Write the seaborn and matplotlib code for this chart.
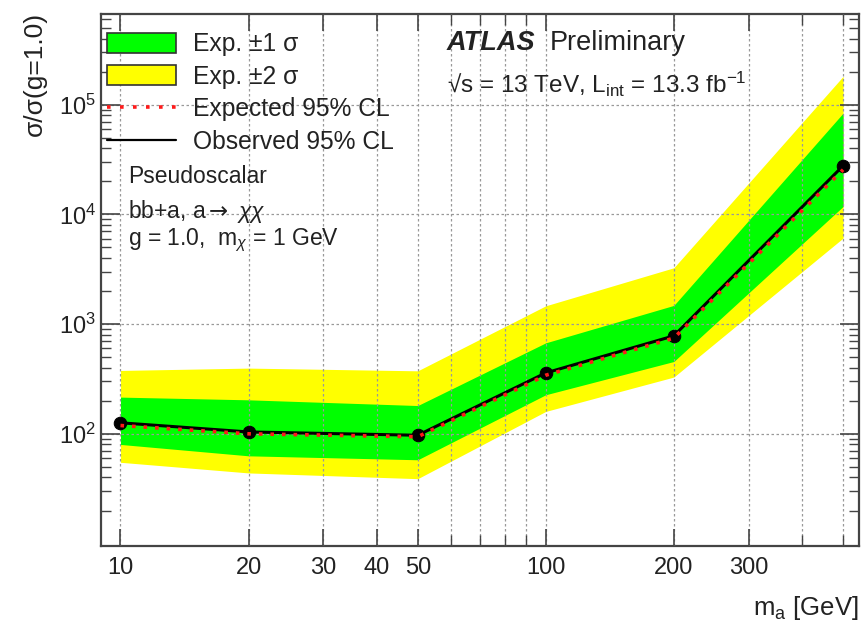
import numpy as np
import pandas as pd
import matplotlib
matplotlib.use("Agg")
import matplotlib.pyplot as plt
import seaborn as sns
from matplotlib.patches import Patch
from matplotlib.lines import Line2D
from matplotlib.ticker import FixedLocator, NullFormatter, LogLocator, FixedFormatter

# ---- data ----
mass = [10, 20, 50, 100, 200, 500]
observed = [126, 104, 97, 359, 781, 27700]
expected = [119, 100, 94, 342, 745, 25500]
band1_lo = [80, 63, 58, 227, 456, 11800]
band1_hi = [216, 204, 181, 675, 1480, 83700]
band2_lo = [55, 44, 39, 160, 329, 6080]
band2_hi = [378, 397, 375, 1468, 3260, 181000]
xtick_vals = [10, 20, 30, 40, 50, 100, 200, 300]
xtick_labels = ["10", "20", "30", "40", "50", "100", "200", "300"]
xminor_vals = [60, 70, 80, 90, 400, 500]
ytick_vals = [1e2, 1e3, 1e4, 1e5]
ytick_labels = ["$10^{2}$", "$10^{3}$", "$10^{4}$", "$10^{5}$"]

df = pd.DataFrame({"m": mass, "obs": observed, "exp": expected})

sns.set_style("ticks")
plt.rcParams["font.family"] = ["Liberation Sans", "DejaVu Sans"]
plt.rcParams["mathtext.fontset"] = "custom"
plt.rcParams["mathtext.rm"] = "Liberation Sans"
plt.rcParams["mathtext.it"] = "Liberation Sans:italic"
plt.rcParams["mathtext.bf"] = "Liberation Sans:bold"
plt.rcParams["mathtext.sf"] = "DejaVu Sans"

FS = 17
TXT = "#222222"

fig = plt.figure(figsize=(8.67, 6.21), dpi=100)
ax = fig.add_axes([0.1165, 0.1208, 0.8743, 0.8567])

ax.fill_between(mass, band2_lo, band2_hi, color="#ffff00", lw=0, zorder=1)
ax.fill_between(mass, band1_lo, band1_hi, color="#00ff00", lw=0, zorder=2)
sns.lineplot(data=df, x="m", y="obs", ax=ax, color="black", lw=2.2,
             marker="o", markersize=9, markeredgecolor="black", zorder=4)
sns.lineplot(data=df, x="m", y="exp", ax=ax, color="#ff1a1a", lw=2.6,
             linestyle=(0, (1, 2.2)), zorder=5)

ax.set_xscale("log")
ax.set_yscale("log")
ax.set_xlim(9.0, 545)
ax.set_ylim(9.5, 6.7e5)

ax.xaxis.set_major_locator(FixedLocator(xtick_vals))
ax.xaxis.set_major_formatter(FixedFormatter(xtick_labels))
ax.xaxis.set_minor_locator(FixedLocator(xminor_vals))
ax.xaxis.set_minor_formatter(NullFormatter())
ax.yaxis.set_major_locator(FixedLocator(ytick_vals))
ax.yaxis.set_major_formatter(FixedFormatter(ytick_labels))
ax.yaxis.set_minor_locator(LogLocator(base=10, subs=np.arange(2, 10)))
ax.yaxis.set_minor_formatter(NullFormatter())

ax.tick_params(axis="both", which="both", direction="in", top=True, right=True,
               labelsize=FS, labelcolor=TXT, colors="#444444")
ax.tick_params(axis="y", which="major", length=14, width=1.2)
ax.tick_params(axis="y", which="minor", length=7, width=1.0)
ax.tick_params(axis="x", which="major", length=12, width=1.2, pad=8)
ax.tick_params(axis="x", which="minor", length=8, width=1.0)

ax.grid(True, which="major", axis="both", color="#999999", linestyle=(0, (2, 2)), lw=0.9)
ax.grid(True, which="minor", axis="x", color="#999999", linestyle=(0, (2, 2)), lw=0.9)
ax.set_axisbelow(False)
for sp in ax.spines.values():
    sp.set_color("#444444")
    sp.set_linewidth(1.6)
ax.set_xlabel("")
ax.set_ylabel("")

LFS = 17.7
handles = [
    Patch(facecolor="#00ff00", edgecolor="#333333", lw=1.2),
    Patch(facecolor="#ffff00", edgecolor="#333333", lw=1.2),
    Line2D([], [], color="#ff1a1a", lw=2.6, linestyle=(0, (1, 2.6))),
    Line2D([], [], color="black", lw=1.6),
]
labels = ["Exp. ±1 σ", "Exp. ±2 σ", "Expected 95% CL", "Observed 95% CL"]
leg = ax.legend(handles, labels, loc="upper left", bbox_to_anchor=(0.008, 0.966),
                frameon=False, fontsize=LFS, handlelength=2.8, handleheight=0.88,
                handletextpad=0.7, labelspacing=0.35, borderaxespad=0.0,
                borderpad=0.0)
for t in leg.get_texts():
    t.set_color(TXT)

ax.text(0.456, 0.945, "ATLAS", transform=ax.transAxes, fontsize=19.5, fontweight="bold",
        fontstyle="italic", color=TXT, va="center", ha="left")
ax.text(0.592, 0.945, "Preliminary", transform=ax.transAxes, fontsize=19.5,
        color=TXT, va="center", ha="left")
ax.text(0.456, 0.867, r"√s = 13 TeV, L$_{\rm int}$ = 13.3 fb$^{-1}$",
        transform=ax.transAxes, fontsize=17.5, color=TXT, va="center", ha="left")
ax.text(0.036, 0.694, "Pseudoscalar", transform=ax.transAxes, fontsize=16.5,
        color=TXT, va="center", ha="left")
ax.text(0.036, 0.628, r"bb+a, a$\mathsf{\rightarrow}$ $\chi\chi$", transform=ax.transAxes,
        fontsize=16.5, color=TXT, va="center", ha="left")
ax.text(0.036, 0.575, r"g = 1.0,  m$_{\chi}$ = 1 GeV", transform=ax.transAxes,
        fontsize=16.5, color=TXT, va="center", ha="left")

fig.text(0.040, 0.981, "σ/σ(g=1.0)", rotation=90, fontsize=19, color=TXT,
         ha="center", va="top")
fig.text(0.9908, 0.021, r"m$_{\rm a}$ [GeV]", fontsize=18.5, color=TXT,
         ha="right", va="center")

fig.savefig("out.png", dpi=100)
